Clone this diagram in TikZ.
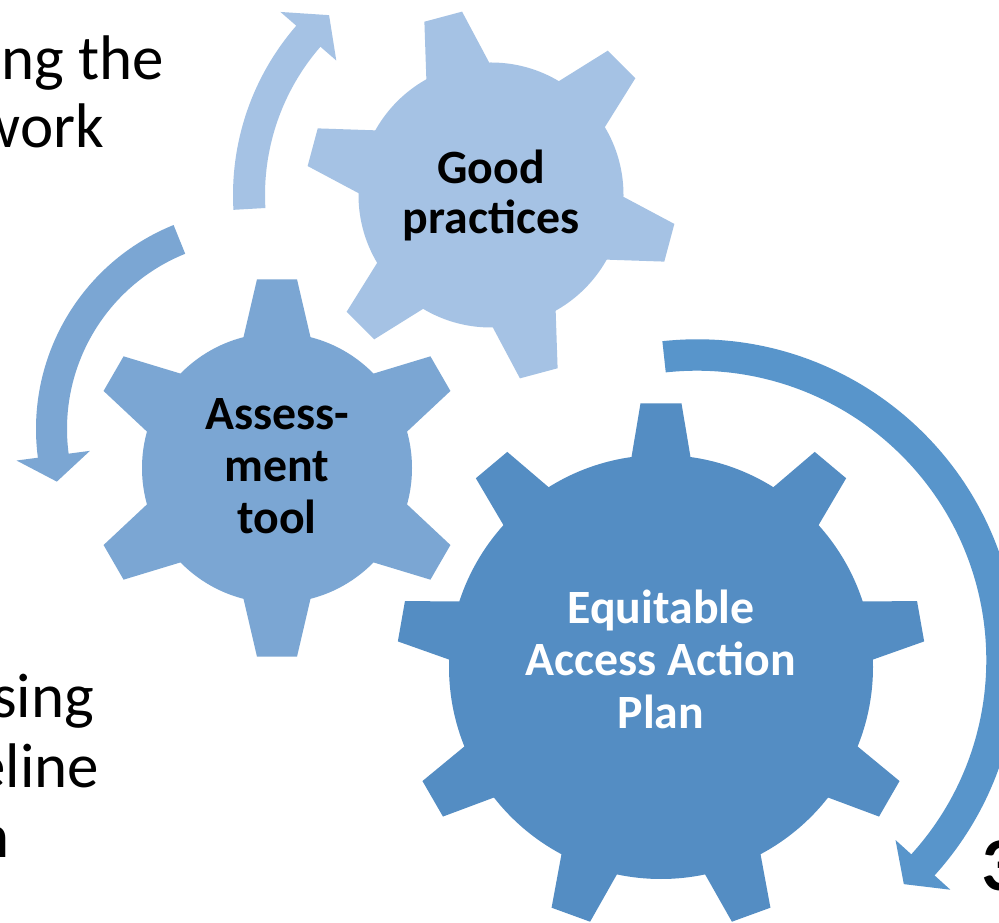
\documentclass[tikz,border=0pt]{standalone}
\usepackage{fontspec}
\setmainfont{Carlito}
\definecolor{gearA}{RGB}{165,194,228}
\definecolor{gearB}{RGB}{123,166,211}
\definecolor{gearC}{RGB}{84,141,195}
\definecolor{arrowC}{RGB}{88,149,203}
% #1 centre, #2 colour, #3 tip radius, #4 body radius, #5 half tip width,
% #6 half root width, #7 root distance, #8 first angle, #9 number of teeth
\newcommand{\gearshape}[9]{%
  \fill[#2] (#1) circle[radius=#4];
  \foreach \k in {1,...,#9}{%
    \pgfmathsetmacro{\ang}{#8+360/#9*(\k-1)}
    \fill[#2,shift={(#1)},rotate=\ang]
      (#3,#5) -- (#7,#6) -- (#7-25,#6) -- (#7-25,-#6) -- (#7,-#6) -- (#3,-#5) -- cycle;
  }%
}
\tikzset{
  geartext/.style={font=\fontsize{47.8}{51}\selectfont\bfseries,inner sep=0pt,outer sep=0pt,anchor=base},
  sidetext/.style={font=\fontsize{63}{68}\selectfont,inner sep=0pt,outer sep=0pt,anchor=base east},
}
\begin{document}
\begin{tikzpicture}[x=1pt,y=1pt]
\useasboundingbox (0,0) rectangle (999,922);
\fill[white] (0,0) rectangle (999,922);

% centres
\coordinate (g1c) at (491,727);
\coordinate (g2c) at (277,454);
\coordinate (g3c) at (661,255);
\coordinate (a1c) at (697,262);
\coordinate (a2c) at (491,727);
\coordinate (a3c) at (256,493);

% gears
\gearshape{g1c}{gearA}{184.6}{132.5}{19.5}{32.5}{128.5}{105}{6}
\gearshape{g2c}{gearB}{188.7}{135}{20}{33.5}{130.8}{90}{6}
\gearshape{g3c}{gearC}{263.6}{212}{20.5}{29.5}{209.9}{90}{9}

% big arrow round the large gear (clockwise)
\fill[arrowC] ([shift={(96.2:320.7)}]a1c) arc[start angle=96.2,end angle=-42.2,radius=320.7]
  -- ([shift={(-42.2:342)}]a1c) -- ([shift={(-47.3:305)}]a1c) -- ([shift={(-42.2:268)}]a1c)
  -- ([shift={(-42.2:289.3)}]a1c) arc[start angle=-42.2,end angle=96.2,radius=289.3] -- cycle;

% arrow by the good-practices gear (clockwise, upwards)
\fill[gearA] ([shift={(183.3:258)}]a2c) arc[start angle=183.3,end angle=139,radius=258]
  -- ([shift={(139:279)}]a2c) -- ([shift={(132:242)}]a2c) -- ([shift={(139:205)}]a2c)
  -- ([shift={(139:226)}]a2c) arc[start angle=139,end angle=183.3,radius=226] -- cycle;

% arrow by the assessment gear (anticlockwise, downwards)
\fill[gearB] ([shift={(112:220)}]a3c) arc[start angle=112,end angle=187.5,radius=220]
  -- ([shift={(187.5:241.5)}]a3c) -- ([shift={(194.8:206)}]a3c) -- ([shift={(187.5:167.5)}]a3c)
  -- ([shift={(187.5:189)}]a3c) arc[start angle=187.5,end angle=112,radius=189] -- cycle;

% gear labels
\node[geartext] (gp1) at (491,738.7) {Good};
\node[geartext] (gp2) at (491,688.7) {practices};
\node[geartext] (at1) at (277,492) {Assess-};
\node[geartext] (at2) at (277,440.3) {ment};
\node[geartext] (at3) at (277,388.7) {tool};
\node[geartext,text=white] (ea1) at (661,298) {Equitable};
\node[geartext,text=white] (ea2) at (661,247) {Access Action};
\node[geartext,text=white] (ea3) at (661,194) {Plan};

% side texts, cut by the picture's edge as in the reference
\node[sidetext] (s1) at (164,842) {ng the};
\node[sidetext] (s2) at (104,774) {work};
\node[sidetext] (s3) at (94,205) {sing};
\node[sidetext] (s4) at (99,135) {eline};
\node[sidetext] (s5) at (10,65) {n};
\node[font=\fontsize{76}{90}\selectfont\bfseries,inner sep=0pt,outer sep=0pt,anchor=base west] (s6) at (981,32) {3};
\end{tikzpicture}
\end{document}
